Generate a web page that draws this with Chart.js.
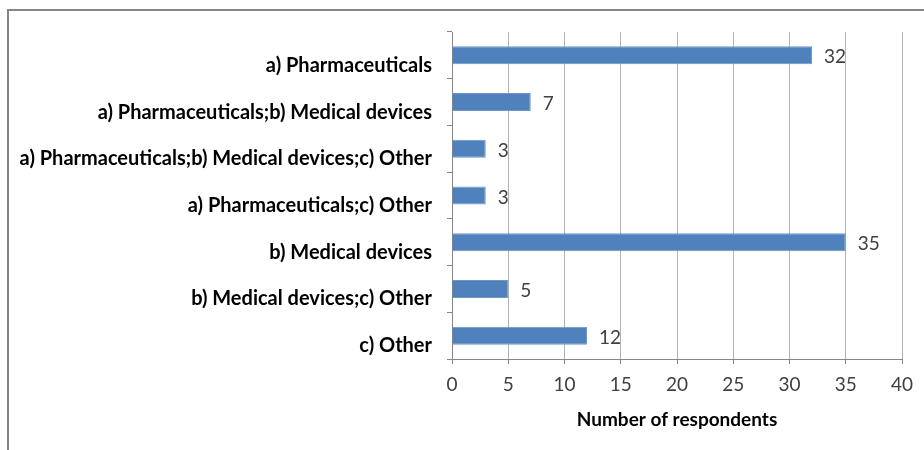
<!DOCTYPE html>
<html>
<head>
<meta charset="utf-8">
<script src="https://cdn.jsdelivr.net/npm/chart.js@4"></script>
<style>
  html, body { margin: 0; padding: 0; background: #fff; }
  #wrap { width: 924px; height: 450px; }
</style>
</head>
<body>
<div id="wrap"><canvas id="respondentsChart" width="924" height="450"></canvas></div>
<script>
const categories = [
  'a) Pharmaceuticals',
  'a) Pharmaceuticals;b) Medical devices',
  'a) Pharmaceuticals;b) Medical devices;c) Other',
  'a) Pharmaceuticals;c) Other',
  'b) Medical devices',
  'b) Medical devices;c) Other',
  'c) Other'
];
const respondents = [32, 7, 3, 3, 35, 5, 12];
const xTicks = [0, 5, 10, 15, 20, 25, 30, 35, 40];
const xTitle = 'Number of respondents';

// outer frame like the exported office chart
const framePlugin = {
  id: 'frame',
  beforeDraw(chart) {
    const ctx = chart.ctx;
    ctx.save();
    ctx.strokeStyle = '#868686';
    ctx.lineWidth = 2;
    ctx.beginPath();
    ctx.moveTo(8, 450);
    ctx.lineTo(8, 10);
    ctx.lineTo(924, 10);
    ctx.stroke();
    ctx.restore();
  }
};

// value labels at the end of each bar
const valueLabels = {
  id: 'valueLabels',
  afterDatasetsDraw(chart) {
    const ctx = chart.ctx;
    const meta = chart.getDatasetMeta(0);
    ctx.save();
    ctx.font = '19px Lato';
    ctx.fillStyle = '#404040';
    ctx.textAlign = 'left';
    ctx.textBaseline = 'middle';
    meta.data.forEach((bar, i) => {
      ctx.fillText(respondents[i], bar.x + 12, bar.y + 2);
    });
    ctx.restore();
  }
};

Chart.defaults.font.family = 'Lato';
Chart.defaults.color = '#000';

new Chart(document.getElementById('respondentsChart'), {
  type: 'bar',
  data: {
    labels: categories,
    datasets: [{
      data: respondents,
      backgroundColor: '#4F81BD',
      borderColor: '#6E97C8',
      borderWidth: 1,
      categoryPercentage: 1,
      barPercentage: 0.385
    }]
  },
  options: {
    indexAxis: 'y',
    responsive: false,
    animation: false,
    layout: {
      padding: { left: 0, right: 22, top: 32, bottom: 15 }
    },
    plugins: {
      legend: { display: false },
      tooltip: { enabled: false }
    },
    scales: {
      x: {
        min: 0,
        max: 40,
        afterBuildTicks(scale) {
          scale.ticks = xTicks.map(v => ({ value: v }));
        },
        afterFit(scale) { scale.height = 76; },
        grid: { color: '#b3b3b3', tickLength: 5, tickColor: '#868686' },
        border: { color: '#868686' },
        ticks: { font: { size: 19 }, color: '#404040', padding: 9 },
        title: {
          display: true,
          text: xTitle,
          font: { size: 19, weight: 'bold' },
          color: '#000',
          padding: { top: 0, bottom: 4 }
        }
      },
      y: {
        afterFit(scale) { scale.width = 452; },
        grid: { drawOnChartArea: false, tickLength: 5, color: '#868686' },
        border: { color: '#868686' },
        ticks: {
          font: { size: 20, weight: 'bold' },
          color: '#000',
          padding: 15,
          labelOffset: 10
        }
      }
    }
  },
  plugins: [framePlugin, valueLabels]
});
</script>
</body>
</html>
